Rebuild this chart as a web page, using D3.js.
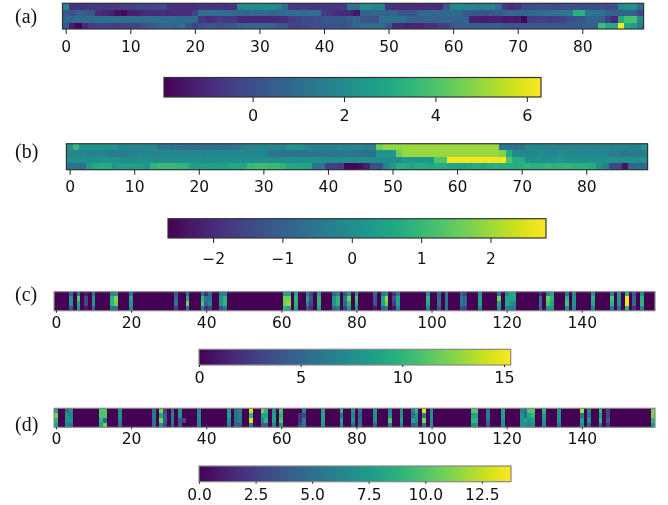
<!DOCTYPE html>
<html lang="en">
<head>
  <meta charset="UTF-8" />
  <title>Heatmap panels</title>
  <style>
    html, body { margin: 0; padding: 0; background: #fff; }
    svg { display: block; filter: blur(0.35px); }
    .tick text { font-family: "DejaVu Sans", sans-serif; fill: #111; }
    .tick line { stroke: #222; }
    .letter { font-family: "Liberation Serif", serif; font-size: 20px; fill: #111; }
    .cell { shape-rendering: crispEdges; }
  </style>
</head>
<body>
  <div id="chart"></div>
  <script src="https://d3js.org/d3.v7.min.js"></script>
  <script>
    // panel (a), 4 rows x 90 columns
    const aRow0 = [1.8,-0.7,-0.8,-0.7,-0.6,-0.5,-0.6,-0.6,-0.5,-0.4,
      -0.4,-0.2,-0.2,-0.3,-0.2,-0.1,-0.7,-0.8,-0.8,-0.9,
      -0.8,-0.7,-0.7,-0.8,-0.7,-0.8,-0.7,1.9,2.0,2.0,
      2.0,2.1,2.0,1.8,0.9,-0.5,-0.6,-0.5,-0.6,-0.7,
      -0.7,-0.6,-0.6,-0.5,1.3,1.1,2.0,2.1,1.9,1.7,
      -0.7,-0.9,-0.9,-0.8,-0.9,-1.0,-0.8,-0.9,-1.0,0.3,
      1.8,1.9,1.7,1.8,1.6,1.7,1.8,1.0,-0.6,-0.9,
      -0.7,-0.1,-0.1,0.0,0.1,0.0,-0.1,0.0,0.1,0.0,
      -0.1,0.0,-0.1,0.0,-0.1,0.1,1.9,2.1,2.2,1.0];
    const aRow1 = [0.3,0.1,0.6,0.5,0.3,-0.8,-1.0,-1.2,-1.6,-1.8,
      -1.3,-1.2,-1.0,-0.9,-1.0,-0.9,-1.0,-0.9,-0.8,-0.9,
      -0.3,1.0,1.1,1.0,1.0,0.9,0.9,0.8,0.7,0.8,
      0.9,0.8,0.7,0.8,0.9,1.0,1.0,0.9,1.0,1.0,
      -0.5,-0.7,-0.9,-1.0,-1.0,-1.5,0.6,0.7,0.8,0.8,
      0.7,0.6,0.3,0.2,0.2,0.8,0.9,0.8,0.8,0.8,
      0.9,0.8,0.3,0.3,0.2,0.1,0.3,0.4,0.7,0.8,
      0.8,0.7,0.8,0.9,1.0,1.1,1.2,1.4,1.4,3.3,
      3.4,1.4,1.3,1.2,0.7,0.6,0.6,0.7,0.5,-0.2];
    const aRow2 = [0.8,0.8,0.9,0.9,0.9,1.0,1.1,1.0,1.1,1.1,
      1.0,1.1,1.0,1.0,1.1,1.0,1.0,0.9,0.9,0.9,
      0.9,-0.6,-0.9,-0.7,-0.5,-0.6,-0.6,-1.0,-1.0,-1.1,
      -1.0,-1.1,-1.0,-1.0,-0.9,-0.5,-0.3,-0.1,-0.1,0.0,
      0.2,0.2,0.3,0.3,0.5,0.7,0.2,0.2,0.1,1.0,
      1.1,1.0,1.0,0.7,0.6,0.6,0.7,0.6,0.6,0.7,
      0.6,0.6,0.6,-1.2,-1.3,-1.3,-1.2,-1.2,-1.4,-1.3,
      -1.4,-1.9,-0.5,-0.4,-0.4,-0.5,-0.4,-0.3,0.1,0.1,
      0.2,0.7,0.7,0.6,-0.4,-1.0,3.0,3.8,3.9,2.0];
    const aRow3 = [0.3,-1.2,-1.9,-1.0,-0.5,-0.3,-0.4,-0.4,-0.5,-0.4,
      -0.3,-0.2,0.1,0.3,0.5,0.7,0.8,0.7,1.0,0.3,
      -0.3,0.1,0.2,0.2,0.1,0.2,0.2,0.7,0.8,0.7,
      0.8,0.7,0.6,0.2,0.2,-0.3,-0.3,-0.2,-0.1,0.0,
      0.1,0.1,0.2,0.1,0.3,0.8,0.9,0.8,0.9,0.8,
      0.3,-1.0,-1.1,-1.2,-1.1,-1.1,-0.8,-0.9,-0.5,-0.4,
      0.3,0.4,0.5,0.5,0.5,0.5,0.4,0.5,0.3,0.2,
      0.2,0.2,0.2,0.3,0.2,0.2,0.3,0.2,0.3,0.3,
      0.5,0.5,0.5,3.7,3.0,3.0,6.3,3.0,2.5,1.5];

    // panel (b), 4 rows x 90 columns
    const bRow0 = [0.2,1.0,0.2,0.1,0.1,0.1,0.1,0.1,-0.1,-0.1,
      -0.1,-0.1,-0.1,-0.1,-0.5,-0.5,-0.6,-0.6,-0.6,-0.7,
      -0.7,-0.6,-0.6,-0.7,-0.7,-0.6,-0.5,-0.2,-0.2,-0.2,
      -0.1,-0.1,-0.2,-0.2,0.2,0.2,0.2,-0.2,-0.3,-0.3,
      -0.3,-0.3,-0.2,-0.2,-0.2,-0.2,-0.3,-0.3,1.6,1.9,
      1.9,1.9,1.95,1.95,1.95,1.95,1.95,1.95,1.95,1.95,
      1.95,1.95,1.95,1.95,1.95,1.95,1.95,-0.5,-0.5,-0.6,
      -0.5,-0.1,-0.1,-0.1,-0.2,-0.1,-0.1,-0.2,-0.1,-0.2,
      -0.1,-0.2,-0.2,-0.2,-0.3,-0.2,-0.2,-0.3,-0.3,0.2];
    const bRow1 = [-0.2,-0.2,-0.2,-0.3,-0.2,-0.2,-0.4,-0.4,-0.4,-0.3,
      -0.3,-0.2,-0.2,-0.2,-0.2,-0.1,-0.1,-0.2,-0.2,-0.1,
      -0.1,-0.2,-0.1,-0.1,-0.1,-0.1,-0.1,-0.1,-0.2,-0.1,
      -0.1,-0.5,-0.5,-0.6,-0.5,-0.5,-0.6,-0.5,-0.5,-0.5,
      -0.5,-0.5,-0.5,-0.4,-0.6,-0.6,-0.6,-0.6,0.2,0.2,
      0.2,1.6,1.95,1.95,1.95,1.95,1.95,1.95,1.95,1.95,
      1.95,1.95,1.95,1.95,1.95,1.95,1.95,1.8,0.7,-0.1,
      -0.1,-0.1,-0.1,0.0,-0.1,-0.1,0.0,-0.1,-0.1,-0.1,
      -0.1,-0.1,-0.1,-0.2,-0.4,-0.4,-0.5,-0.4,-0.4,-0.4];
    const bRow2 = [0.1,0.1,0.1,0.0,0.0,0.1,0.1,0.1,0.0,0.0,
      0.0,0.1,0.1,0.0,0.0,0.0,0.0,0.1,0.1,0.1,
      0.1,0.0,0.0,0.0,0.1,0.1,0.1,0.0,0.0,0.0,
      0.1,0.1,0.0,0.0,0.1,0.0,0.0,0.1,0.1,0.0,
      0.0,0.1,0.0,0.0,0.0,0.0,0.1,0.0,0.0,0.0,
      0.0,0.0,0.3,0.3,0.3,0.3,0.3,1.3,1.3,2.7,
      2.7,2.7,2.7,2.7,2.7,2.7,2.7,2.7,1.3,0.7,
      0.7,0.1,0.1,0.1,0.1,0.1,0.2,0.1,0.1,0.1,
      0.1,0.1,0.1,0.1,0.1,0.0,0.1,0.1,0.0,0.1];
    const bRow3 = [-0.6,-0.6,-0.7,0.3,0.6,0.7,0.7,0.2,0.4,0.4,
      0.4,0.4,0.2,0.9,1.0,1.0,1.0,0.9,0.9,0.5,
      0.4,0.4,0.5,0.5,0.4,0.6,0.6,0.6,1.0,1.1,
      1.1,1.0,1.0,0.9,0.6,0.6,0.6,0.5,-0.5,-0.6,
      -1.6,-1.6,-1.7,-2.6,-2.6,-2.5,-2.2,-1.3,-1.3,-0.3,
      0.3,0.7,0.7,0.6,0.7,0.7,0.6,0.7,0.7,0.6,
      0.6,0.5,0.6,0.7,0.6,0.7,0.8,0.7,0.8,0.7,
      0.8,0.9,0.8,0.8,0.9,0.8,0.9,0.9,0.8,0.8,
      0.8,0.7,0.1,-0.3,-1.5,-1.5,-2.4,-0.9,-0.8,-0.8];

    // panel (c), 160 columns, only the non-zero columns are listed
    const cCols = [4,6,8,10,15,16,20,32,35,39,40,41,44,45,61,62,64,67,68,70,74,75,77,78,80,
      85,87,88,90,91,99,102,104,108,109,113,118,120,121,122,129,131,132,136,138,143,148,150,152,154,156];
    const cRow0 = [5,6,1,6,7,8,6,4,6,6,2,5,7,7,9,9,9,7,3,9,5,7,4,8,8,
      5,6,8,2,6,8,5,6,5,3,8,6,7,9,9,2,7,9,6,7,8,7,8,10,4,8];
    const cRow1 = [8,11.5,3,8,10,12.5,9,5,9,10,6,6,8,10,12,12,10,9,4,10,8,10,6,12,11,
      4,9,13,4,9,10,5,6,6,5,9,12,9,9,9,6,12,10,10,8,10,11,8,15,5,10];
    const cRow2 = [8,9,3.5,8,10,12,8,6,12,11,5,7,8,10,12,13,10,7,3,10,8,10,5,10,10,
      4,9,12,3,9,9,6,6,6,5,9,9,9,8,7,6,11,9,11,8,9,10,8,15,5,10];
    const cRow3 = [4,8,1,5,6,6,7,3,6,7,2,3,4,6,10,9,9,4,2,9,5,6,3,8,8,
      1,5,6,1,7,7,4,6,4,3,7,8,7,6,6,5,8,8,8,7,7,6,5,10,2,7];

    // panel (d), 160 columns, only the non-zero columns are listed
    const dCols = [0,3,4,12,13,17,26,28,29,31,33,34,38,46,48,49,52,55,56,58,60,65,66,71,76,79,81,
      85,89,92,95,96,98,100,111,112,115,119,124,125,126,127,130,134,140,142,145,147,159];
    const dRow0 = [8,5,7,10,10,7,5,11,3,5,7,0,6,7,5,6,13,11,9,7,10,0,6,8,9,7,5,
      7,6,7,6,9,13,7,10,10,5,8,6,5,10,10,9,7,12,6,9,3,11];
    const dRow1 = [11,7,6,10,10,7,6,8,4,6,7,0,7,8,5,6,9,8,8,8,9,2,3,8,5,6,4,
      7,7,7,5,7,6,7,8,8,6,8,7,5,8,9,8,7,5,5,8,3,11];
    const dRow2 = [9,7,7,9,5,6,5,11,4,6,4,3,6,7,5,6,13,7,9,8,10,2,6,8,8,7,5,
      7,10,8,8,7,11,7,9,9,5,7,7,8,7,8,7,7,8,7,9,4,9];
    const dRow3 = [8,6,5,8,11,5,5,7,3,4,4,0,6,6,4,4,6,4,4,6,7,3,5,7,7,4,5,
      4,6,6,4,5,5,7,7,7,4,7,7,7,6,7,6,5,7,4,5,2,7];

    const aTicks = d3.range(0, 90, 10);
    const cTicks = d3.range(0, 160, 20);
    const aBarTicks = [0, 2, 4, 6];
    const bBarTicks = [-2, -1, 0, 1, 2];
    const cBarTicks = [0, 5, 10, 15];
    const dBarTicks = [0, 2.5, 5, 7.5, 10, 12.5];

    function fromSparse(cols, vals, n) {
      const row = new Array(n).fill(0);
      cols.forEach((c, i) => { row[c] = vals[i]; });
      return row;
    }

    const panels = [
      { letter: "(a)", letterY: 23, rows: [aRow0, aRow1, aRow2, aRow3], x0: 62.5, x1: 643.6, y0: 3.3, y1: 29,
        ticks: aTicks, tickLen: 5, tickPad: 6.5, font: 15.5, dark: "#333",
        domain: [-1.94, 6.31], barX: [164, 541], barY: [77.5, 97], barTicks: aBarTicks, barLen: 5, barPad: 8, barFont: 16 },
      { letter: "(b)", letterY: 158, rows: [bRow0, bRow1, bRow2, bRow3], x0: 66.4, x1: 647.6, y0: 143.7, y1: 169.7,
        ticks: aTicks, tickLen: 5, tickPad: 6, font: 15.5, dark: "#333",
        domain: [-2.65, 2.80], barX: [168, 546], barY: [218.7, 238], barTicks: bBarTicks, barLen: 5, barPad: 9.5, barFont: 15.5 },
      { letter: "(c)", letterY: 301, rows: [cRow0, cRow1, cRow2, cRow3].map(r => fromSparse(cCols, r, 160)), x0: 54.1, x1: 655, y0: 291.7, y1: 310.7,
        ticks: cTicks, tickLen: 2, tickPad: 4, font: 15.5, dark: "#888",
        domain: [0, 15.33], barX: [199, 510.7], barY: [349.3, 365], barTicks: cBarTicks, barLen: 2, barPad: 4.7, barFont: 16 },
      { letter: "(d)", letterY: 431, rows: [dRow0, dRow1, dRow2, dRow3].map(r => fromSparse(dCols, r, 160)), x0: 54.1, x1: 655, y0: 408.3, y1: 427.3,
        ticks: cTicks, tickLen: 2, tickPad: 4, font: 15.5, dark: "#888",
        domain: [0, 13.79], barX: [199, 511], barY: [466, 481.7], barTicks: dBarTicks, barLen: 2, barPad: 5.6, barFont: 15.5, barFormat: ".1f" }
    ];

    const svg = d3.select("#chart").append("svg")
      .attr("width", 668)
      .attr("height", 505);

    const defs = svg.append("defs");

    panels.forEach((p, pi) => {
      const n = p.rows[0].length;
      const color = d3.scaleSequential(d3.interpolateViridis).domain(p.domain);
      const x = d3.scaleLinear().domain([-0.5, n - 0.5]).range([p.x0, p.x1]);
      const y = d3.scaleBand().domain(d3.range(p.rows.length)).range([p.y0, p.y1]);

      svg.append("text")
        .attr("class", "letter")
        .attr("x", 15)
        .attr("y", p.letterY)
        .text(p.letter);

      const g = svg.append("g");
      p.rows.forEach((row, r) => {
        g.selectAll(null)
          .data(row)
          .enter()
          .append("rect")
            .attr("class", "cell")
            .attr("x", (d, i) => x(i - 0.5))
            .attr("y", y(r))
            .attr("width", x(1) - x(0))
            .attr("height", y.bandwidth())
            .attr("fill", d => color(d));
      });

      svg.append("rect")
        .attr("x", p.x0)
        .attr("y", p.y0)
        .attr("width", p.x1 - p.x0)
        .attr("height", p.y1 - p.y0)
        .attr("fill", "none")
        .attr("stroke", p.dark)
        .attr("stroke-width", 1.2);

      svg.append("g")
        .attr("transform", `translate(0,${p.y1})`)
        .call(d3.axisBottom(x).tickValues(p.ticks).tickSize(p.tickLen).tickPadding(p.tickPad).tickFormat(d3.format("d")))
        .call(a => a.select(".domain").remove())
        .selectAll("text").style("font-size", p.font + "px");

      // colorbar
      const cx = d3.scaleLinear().domain(p.domain).range(p.barX);
      const grad = defs.append("linearGradient").attr("id", "bar" + pi);
      d3.range(0, 1.001, 0.05).forEach(t => {
        grad.append("stop")
          .attr("offset", t)
          .attr("stop-color", d3.interpolateViridis(t));
      });
      svg.append("rect")
        .attr("x", p.barX[0])
        .attr("y", p.barY[0])
        .attr("width", p.barX[1] - p.barX[0])
        .attr("height", p.barY[1] - p.barY[0])
        .attr("fill", `url(#bar${pi})`)
        .attr("stroke", p.dark)
        .attr("stroke-width", 1.2);

      const fmt = p.barFormat ? d3.format(p.barFormat) : d3.format("d");
      svg.append("g")
        .attr("transform", `translate(0,${p.barY[1]})`)
        .call(d3.axisBottom(cx).tickValues(p.barTicks).tickSize(p.barLen).tickPadding(p.barPad).tickFormat(fmt))
        .call(a => a.select(".domain").remove())
        .selectAll("text").style("font-size", p.barFont + "px");
    });
  </script>
</body>
</html>
